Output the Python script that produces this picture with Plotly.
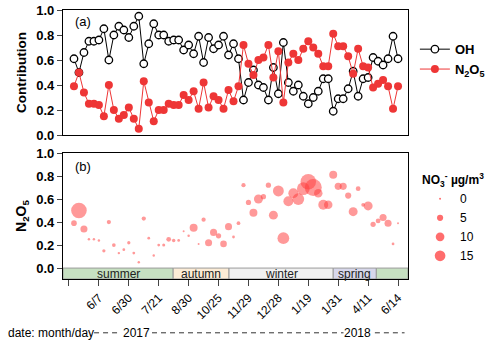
import math
import plotly.graph_objects as go

# sampling days, one point each (x = running index)
idx = list(range(1, 67))

oh = [0.61, 0.50, 0.66, 0.75, 0.75, 0.76, 0.85, 0.60, 0.80, 0.87,
      0.84, 0.78, 0.87, 0.95, 0.57, 0.73, 0.89, 0.80, 0.80, 0.75,
      0.76, 0.76, 0.68, 0.72, 0.65, 0.79, 0.58, 0.78, 0.69, 0.72,
      0.79, 0.64, 0.73, 0.61, 0.28, 0.42, 0.52, 0.40, 0.38, 0.28,
      0.54, 0.33, 0.74, 0.42, 0.35, 0.40, 0.31, 0.25, 0.30, 0.35,
      0.45, 0.45, 0.19, 0.29, 0.29, 0.37, 0.51, 0.31, 0.45, 0.46,
      0.62, 0.59, 0.56, 0.61, 0.79, 0.61]

n2o5 = [0.39, 0.50, 0.34, 0.25, 0.25, 0.24, 0.15, 0.40, 0.20, 0.13,
        0.16, 0.22, 0.13, 0.05, 0.43, 0.26, 0.11, 0.20, 0.20, 0.25,
        0.24, 0.24, 0.32, 0.28, 0.35, 0.21, 0.42, 0.22, 0.31, 0.28,
        0.21, 0.36, 0.27, 0.39, 0.72, 0.57, 0.48, 0.60, 0.62, 0.72,
        0.46, 0.67, 0.26, 0.58, 0.65, 0.60, 0.69, 0.75, 0.70, 0.65,
        0.55, 0.55, 0.81, 0.71, 0.71, 0.63, 0.49, 0.69, 0.55, 0.54,
        0.38, 0.41, 0.44, 0.39, 0.21, 0.39]

# NO3- (ug/m3), bubble size
no3 = [2.1, 16, 3.3, 0.4, 0.4, 0.4, 0.7, 1.2, 0.9, 0.4,
       0.5, 0.7, 0.5, 0.4, 1.2, 0.5, 0.4, 0.5, 0.6, 1.5,
       0.8, 0.5, 0.2, 0.4, 4.2, 0.2, 1.2, 3.3, 3.3, 1.8,
       2.9, 3.3, 0.5, 0.9, 1.2, 1.8, 4.2, 5.3, 1.8, 1.8,
       5.3, 7.8, 9.1, 6.5, 6.5, 9.1, 10.7, 16, 19, 4.8,
       6.5, 4.8, 4.2, 3.3, 3.3, 2.5, 5.3, 1.5, 0.9, 5.3,
       1.8, 1.5, 3.3, 3.3, 0.5, 0.2]

tick_pos = list(range(0, 67, 6))
tick_text = ["", "6/7", "6/30", "7/21", "8/30", "10/25", "11/29",
             "12/28", "1/19", "1/31", "4/11", "6/14"]

season_names = ["summer", "autumn", "winter", "spring", ""]
season_edges = [-1.2, 20.9, 32.1, 53.0, 61.65, 68.0]
season_colors = ["#c6e0c1", "#fcecd6", "#f0f0f0", "#d7d7eb", "#c6e0c1"]

legend_no3 = [0, 5, 10, 15]

SIZEREF = 0.132
FONT = "Arial, Liberation Sans, sans-serif"
RED = "#ee3636"
BUBBLE = "rgba(255,60,60,0.75)"

fig = go.Figure()

fig.add_trace(go.Scatter(
    x=idx, y=oh, name="<b>OH</b>", mode="lines+markers",
    line=dict(color="black", width=1),
    marker=dict(size=7.5, color="white", line=dict(color="black", width=1.3)),
    xaxis="x", yaxis="y"))
fig.add_trace(go.Scatter(
    x=idx, y=n2o5, name="<b>N<sub>2</sub>O<sub>5</sub></b>", mode="lines+markers",
    line=dict(color=RED, width=1),
    marker=dict(size=8, color=RED),
    xaxis="x", yaxis="y"))

fig.add_trace(go.Scatter(
    x=idx, y=n2o5, mode="markers", showlegend=False,
    marker=dict(size=no3, sizemode="area", sizeref=SIZEREF, sizemin=1,
                color=BUBBLE, line=dict(width=0)),
    xaxis="x2", yaxis="y2"))

# size legend
for v in legend_no3:
    fig.add_trace(go.Scatter(
        x=[None], y=[None], mode="markers", name=str(v), legend="legend2",
        marker=dict(size=max(math.sqrt(v / SIZEREF), 2), color=BUBBLE, line=dict(width=0)),
        xaxis="x2", yaxis="y2"))

# season band under the bottom panel
for name, x0, x1, c in zip(season_names, season_edges[:-1], season_edges[1:], season_colors):
    fig.add_shape(type="rect", xref="x2", yref="y2", x0=x0, x1=x1, y0=-0.095, y1=0,
                  fillcolor=c, line=dict(color="#9a9a9a", width=1), layer="below")
    if name:
        fig.add_annotation(x=(x0 + x1) / 2, y=-0.05, xref="x2", yref="y2", text=name,
                           showarrow=False, font=dict(size=12, color="#222"))

axis_common = dict(showline=True, mirror=True, linecolor="black", linewidth=1.3,
                   showgrid=False, zeroline=False, automargin=False)

fig.update_layout(
    width=500, height=341,
    margin=dict(l=63, r=84, t=10, b=62),
    paper_bgcolor="white", plot_bgcolor="white",
    font=dict(family=FONT, color="black"),
    xaxis=dict(domain=[0, 1], range=[-1.2, 68], anchor="y", showticklabels=False,
               ticks="", **axis_common),
    yaxis=dict(domain=[0.5353, 1], range=[0, 1], dtick=0.2, tickformat=".1f",
               ticks="outside", ticklen=5, tickwidth=1.3,
               tickfont=dict(size=13, weight="bold"),
               title=dict(text="Contribution", font=dict(size=13.5, weight="bold"), standoff=6),
               **axis_common),
    xaxis2=dict(domain=[0, 1], range=[-1.2, 68], anchor="y2", tickvals=tick_pos,
                ticktext=tick_text, tickangle=-45, ticks="outside", ticklen=6,
                tickwidth=1.3, tickfont=dict(size=12), **axis_common),
    yaxis2=dict(domain=[0, 0.4684], range=[-0.095, 1.0], tickvals=[0, 0.2, 0.4, 0.6, 0.8, 1.0],
                tickformat=".1f", ticks="outside", ticklen=5, tickwidth=1.3,
                tickfont=dict(size=13, weight="bold"),
                title=dict(text="N<sub>2</sub>O<sub>5</sub>", font=dict(size=14, weight="bold"), standoff=6),
                **axis_common),
    legend=dict(x=1.02, y=0.91, xanchor="left", yanchor="top",
                font=dict(size=13), bgcolor="rgba(0,0,0,0)", tracegroupgap=0),
    legend2=dict(x=1.035, y=0.41, xanchor="left", yanchor="top",
                 title=dict(text="<b>NO<sub>3</sub><sup>-</sup> µg/m<sup>3</sup></b>",
                            font=dict(size=12), side="top"),
                 font=dict(size=12), bgcolor="rgba(0,0,0,0)"),
)

fig.add_annotation(text="(a)", xref="x domain", yref="y domain", x=0.028, y=0.91,
                   xanchor="left", yanchor="middle", showarrow=False, font=dict(size=13))
fig.add_annotation(text="(b)", xref="x2 domain", yref="y2 domain", x=0.028, y=0.89,
                   xanchor="left", yanchor="middle", showarrow=False, font=dict(size=13))

# date footer
FOOT_Y = -0.2
fig.add_annotation(text="date: month/day", xref="paper", yref="paper", x=-0.164, y=FOOT_Y,
                   xanchor="left", yanchor="middle", showarrow=False, font=dict(size=12))
for yr, xc in [("2017", 0.2125), ("2018", 0.855)]:
    fig.add_annotation(text=yr, xref="paper", yref="paper", x=xc, y=FOOT_Y,
                       xanchor="center", yanchor="middle", showarrow=False, font=dict(size=12))
for x0, x1 in [(0.09, 0.167), (0.258, 0.813), (0.904, 0.99)]:
    fig.add_shape(type="line", xref="paper", yref="paper", x0=x0, x1=x1, y0=FOOT_Y, y1=FOOT_Y,
                  line=dict(color="#333", width=1, dash="5px,4px"))

# the page body has a default 8px margin; drop it so the figure fills the window
fig.write_html("out.html", config={"displayModeBar": False},
               post_script="document.body.style.margin='0';")
